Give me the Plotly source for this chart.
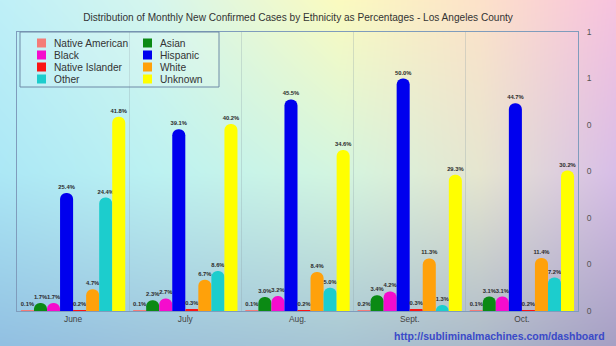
import base64
import struct
import zlib

import numpy as np
import plotly.graph_objects as go

# ---- data -------------------------------------------------------------
months = ["June", "July", "Aug.", "Sept.", "Oct."]

native_american = [0.1, 0.1, 0.1, 0.2, 0.1]
asian = [1.7, 2.3, 3.0, 3.4, 3.1]
black = [1.7, 2.7, 3.2, 4.2, 3.1]
hispanic = [25.4, 39.1, 45.5, 50.0, 44.7]
native_islander = [0.2, 0.3, 0.2, 0.3, 0.2]
white = [4.7, 6.7, 8.4, 11.3, 11.4]
other = [24.4, 8.6, 5.0, 1.3, 7.2]
unknown = [41.8, 40.2, 34.6, 29.3, 30.2]

series_names = ["Native American", "Asian", "Black", "Hispanic",
                "Native Islander", "White", "Other", "Unknown"]
series_values = [native_american, asian, black, hispanic,
                 native_islander, white, other, unknown]
series_colors = ["#f47c78", "#0b8a14", "#f50ccd", "#0000ee",
                 "#fa1414", "#ffa10a", "#1ccdcd", "#ffff00"]

right_tick_vals = [0, 10, 20, 30, 40, 50, 60]
right_tick_text = ["0", "0", "0", "0", "0", "1", "1"]

title_text = ("Distribution of Monthly New Confirmed Cases by Ethnicity "
              "as Percentages - Los Angeles County")
url_text = "http://subliminalmachines.com/dashboard"

# ---- geometry (pixels) ---------------------------------------------------
W, H = 616, 346
ML, MR, MT, MB = 17, 38, 32, 35
PW, PH = W - ML - MR, H - MT - MB


def px(x):
    return (x - ML) / PW


def py(y):
    return (H - MB - y) / PH


# ---- soft multi-colour background rendered to a PNG ------------------------
def hex_rgb(h):
    h = h.lstrip("#")
    return [int(h[i:i + 2], 16) for i in (0, 2, 4)]


cx = [0.0, 0.25, 0.55, 0.78, 1.0]
cy = [0.0, 0.5, 1.0]
grid = np.array([
    [hex_rgb(c) for c in ["#bff0f8", "#d6f6ee", "#fbfbc0", "#fde2ca", "#f8c2de"]],
    [hex_rgb(c) for c in ["#ace8f6", "#bcf2f2", "#d4f6e0", "#e6e6d0", "#d8bee8"]],
    [hex_rgb(c) for c in ["#92c0e2", "#9ec4dc", "#a8c6d4", "#acbaca", "#a6a0c4"]],
], dtype=float)

xs = np.linspace(0, 1, W)
ys = np.linspace(0, 1, H)
rows = np.stack([np.stack([np.interp(xs, cx, grid[r, :, c]) for c in range(3)], -1)
                 for r in range(3)])  # (3, W, 3)
img = np.empty((H, W, 3))
for c in range(3):
    for j in range(W):
        img[:, j, c] = np.interp(ys, cy, rows[:, j, c])
img = np.clip(img, 0, 255).astype(np.uint8)


def png_bytes(a):
    h, w, _ = a.shape
    raw = b"".join(b"\x00" + a[i].tobytes() for i in range(h))

    def chunk(tag, data):
        c = struct.pack(">I", len(data)) + tag + data
        return c + struct.pack(">I", zlib.crc32(tag + data) & 0xFFFFFFFF)

    return (b"\x89PNG\r\n\x1a\n"
            + chunk(b"IHDR", struct.pack(">IIBBBBB", w, h, 8, 2, 0, 0, 0))
            + chunk(b"IDAT", zlib.compress(raw, 9))
            + chunk(b"IEND", b""))


bg_uri = "data:image/png;base64," + base64.b64encode(png_bytes(img)).decode()

# ---- figure ---------------------------------------------------------------
FONT = "Liberation Sans, Arial, Helvetica, sans-serif"
fig = go.Figure()

for name, vals, col in zip(series_names, series_values, series_colors):
    fig.add_trace(go.Bar(
        x=months, y=vals, name=name,
        marker=dict(color=col, line=dict(width=0), cornerradius="50%"),
        texttemplate="%{y:.1f}%", textposition="outside",
        textfont=dict(size=5.8, color="#2a2a2a", family=FONT, weight="bold"),
        cliponaxis=False, constraintext="none",
        showlegend=False,
    ))

# invisible trace that carries the right-hand axis
fig.add_trace(go.Scatter(x=[months[0]], y=[0], yaxis="y2", mode="none",
                         showlegend=False, hoverinfo="skip"))

# compact two-column key
col_x = [37, 143]
row_y = [43, 55, 67, 79]
shapes = [dict(type="rect", xref="paper", yref="paper",
               x0=px(20), x1=px(219), y0=py(87), y1=py(32),
               line=dict(color="#6f8aa6", width=1),
               fillcolor="rgba(255,255,255,0.12)", layer="above")]
annotations = []
for i, (name, col) in enumerate(zip(series_names, series_colors)):
    r, c = divmod(i, 2)
    x0, yc = col_x[c], row_y[r]
    shapes.append(dict(type="rect", xref="paper", yref="paper",
                       x0=px(x0), x1=px(x0 + 9), y0=py(yc + 4.5), y1=py(yc - 4.5),
                       line=dict(width=0), fillcolor=col, layer="above"))
    annotations.append(dict(text=name, xref="paper", yref="paper",
                            x=px(x0 + 15), y=py(yc), xanchor="left", yanchor="middle",
                            showarrow=False,
                            font=dict(size=10.2, color="#333333", family=FONT)))

annotations.append(dict(text="<b>" + url_text + "</b>", xref="paper", yref="paper",
                        x=px(607), y=py(336), xanchor="right", yanchor="middle",
                        showarrow=False,
                        font=dict(size=10.5, color="#3a4ac8", family=FONT)))

fig.update_layout(
    width=W, height=H,
    margin=dict(l=ML, r=MR, t=MT, b=MB, pad=0),
    paper_bgcolor="#c0e8f0",
    plot_bgcolor="rgba(0,0,0,0)",
    barmode="group", bargap=0.07, bargroupgap=0,
    showlegend=False,
    font=dict(family=FONT, color="#333333"),
    title=dict(text=title_text, x=298 / W, xanchor="center",
               y=1 - 17 / H, yanchor="middle", xref="container", yref="container",
               font=dict(size=10.1, color="#333333", family=FONT)),
    xaxis=dict(type="category", showgrid=True, tickson="boundaries",
               gridcolor="rgba(140,160,170,0.30)", gridwidth=1,
               showline=True, linecolor="#7f9cbc", linewidth=1, mirror=True,
               ticks="", tickfont=dict(size=8.4, color="#444444"),
               range=[-0.5, 4.5], zeroline=False),
    yaxis=dict(range=[0, 60], showgrid=False, showticklabels=False,
               showline=True, linecolor="#7f9cbc", linewidth=1, mirror=True,
               zeroline=False, ticks=""),
    yaxis2=dict(overlaying="y", side="right", range=[0, 60],
                tickmode="array", tickvals=right_tick_vals, ticktext=right_tick_text,
                showgrid=False, zeroline=False, showline=False,
                ticks="outside", ticklen=6, tickcolor="rgba(0,0,0,0)",
                tickfont=dict(size=8.5, color="#555555")),
    shapes=shapes,
    annotations=annotations,
    images=[dict(source=bg_uri, xref="paper", yref="paper",
                 x=px(0), y=py(0), sizex=W / PW, sizey=H / PH,
                 xanchor="left", yanchor="top", sizing="stretch", layer="below")],
)

fig.write_html("out.html")
